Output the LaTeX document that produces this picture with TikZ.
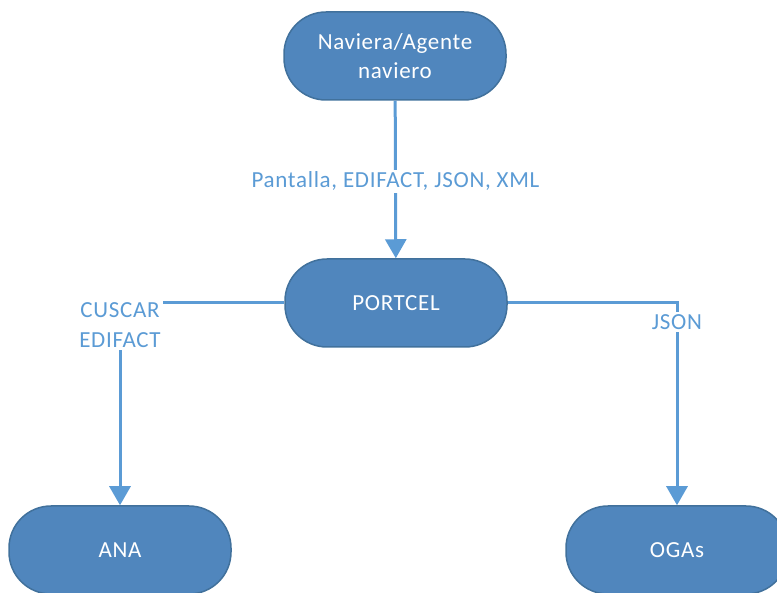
\documentclass[tikz,border=0pt]{standalone}
\usepackage{fontspec}
\setmainfont{Carlito}[LetterSpace=3]
\usetikzlibrary{arrows.meta}
\definecolor{relleno}{RGB}{80,134,189}
\definecolor{borde}{RGB}{65,113,156}
\definecolor{linea}{RGB}{91,155,213}
\tikzset{bloque/.style = {draw=borde, line width=1.5pt, fill=relleno, text=white,
                          rounded corners=42pt, minimum width=222pt, minimum height=88pt,
                          align=center, font=\fontsize{23}{29}\selectfont},
         flecha/.style = {draw=linea, line width=3pt, -{Triangle[width=21pt,length=19pt]}},
         etiqueta/.style = {fill=white, text=linea, inner sep=2pt, align=center,
                            font=\fontsize{23}{30}\selectfont}}

\begin{document}
\begin{tikzpicture}[x=1pt, y=-1pt]
\useasboundingbox (0,0) rectangle (777,593);
\node[bloque] (naviera) at (395,56) {Naviera/Agente\\naviero};
\node[bloque] (portcel) at (396,303) {PORTCEL};
\node[bloque] (ana) at (120,550) {ANA};
\node[bloque] (ogas) at (677,550) {OGAs};
\draw[flecha] (naviera) -- node[etiqueta, pos=0.51] {Pantalla, EDIFACT, JSON, XML} (portcel);
\draw[flecha] (portcel.west) -| node[etiqueta, yshift=-22pt] {CUSCAR\\EDIFACT} (ana.north);
\draw[flecha] (portcel.east) -| node[etiqueta, yshift=-19pt] {JSON} (ogas.north);
\end{tikzpicture}
\end{document}
